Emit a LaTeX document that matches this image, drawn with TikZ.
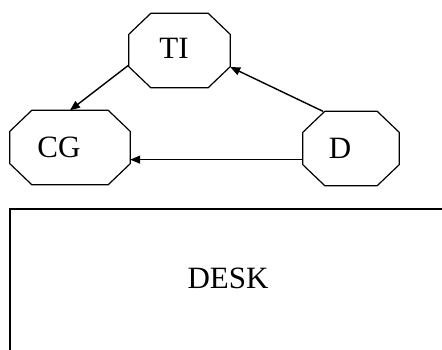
\documentclass[tikz,border=0pt]{standalone}
\usepackage{fontspec}
\setmainfont{Liberation Serif}
\usetikzlibrary{arrows.meta}
% octagon drawn round a named node
\newcommand\octagon[1]{%
  \draw[line width=1.2pt, line join=round] ([xshift=22pt]#1.north west) -- ([xshift=-22pt]#1.north east)
    -- ([yshift=-21pt]#1.north east) -- ([yshift=21pt]#1.south east)
    -- ([xshift=-22pt]#1.south east) -- ([xshift=22pt]#1.south west)
    -- ([yshift=21pt]#1.south west) -- ([yshift=-21pt]#1.north west) -- cycle;}
\begin{document}
\begin{tikzpicture}[x=1pt,y=-1pt]
        \useasboundingbox (0,0) rectangle (442,349);
        \begin{scope}
          \begin{scope}[every node/.style={rectangle, inner sep=0pt, minimum height=74pt,
              font=\fontsize{31}{31}\selectfont}]
            \node[minimum width=101pt, label={[xshift=-5.5pt,yshift=2.5pt]center:TI}] (ti) at (179.5,50.5) {};
            \node[minimum width=120pt, label={[xshift=-11pt]center:CG}] (cg) at (70,147.5) {};
            \node[minimum width=96pt, label={[xshift=-11pt]center:D}] (d) at (351,148.5) {};
          \end{scope}
          \octagon{ti}
          \octagon{cg}
          \octagon{d}
          \begin{scope}[every edge/.style={draw=black, line width=1.4pt, -{Triangle[length=10pt,width=8pt]}}]
            \path (ti.196) edge (cg.north);
            \path (d.127.5) edge (ti.342);
            \path (d.193) edge (d.193 -| cg.east);
          \end{scope}
        \end{scope}
        \begin{scope}
          \draw[line width=1.4pt] (10,360) -- (10,209) -- (450,209);
          \node[font=\fontsize{31}{31}\selectfont] (desk) at (228,278) {DESK};
        \end{scope}
      \end{tikzpicture}
\end{document}
